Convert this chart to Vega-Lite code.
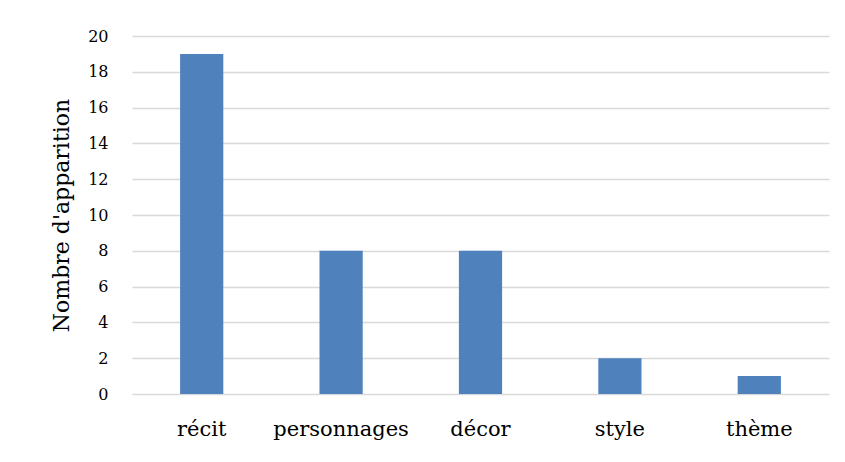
{
  "$schema": "https://vega.github.io/schema/vega-lite/v6.json",
  "autosize": "none",
  "width": 697,
  "height": 358,
  "padding": {"left": 132, "top": 36, "right": 16, "bottom": 68},
  "background": "white",
  "data": {"values": [
    {"cat": "récit", "n": 19},
    {"cat": "personnages", "n": 8},
    {"cat": "décor", "n": 8},
    {"cat": "style", "n": 2},
    {"cat": "thème", "n": 1}
  ]},
  "mark": {"type": "bar", "color": "#4F81BD"},
  "encoding": {
    "x": {
      "field": "cat", "type": "nominal", "sort": null,
      "scale": {"paddingInner": 0.69, "paddingOuter": 0.345},
      "axis": {"title": null, "labelAngle": 0, "labelFont": "DejaVu Serif", "labelFontSize": 21, "labelColor": "#000", "labelPadding": 24, "ticks": false, "domain": false, "grid": false}
    },
    "y": {
      "field": "n", "type": "quantitative",
      "scale": {"domain": [0, 20], "nice": false},
      "axis": {"title": "Nombre d'apparition", "values": [0,2,4,6,8,10,12,14,16,18,20], "titleFont": "DejaVu Serif", "titleFontSize": 22, "titleFontWeight": "normal", "titleColor": "#000", "titlePadding": 14, "labelFont": "DejaVu Serif", "labelFontSize": 16, "labelColor": "#000", "labelPadding": 24, "ticks": false, "domain": false, "gridColor": "#D9D9D9", "gridWidth": 1.3}
    }
  },
  "config": {"view": {"stroke": null}}
}
